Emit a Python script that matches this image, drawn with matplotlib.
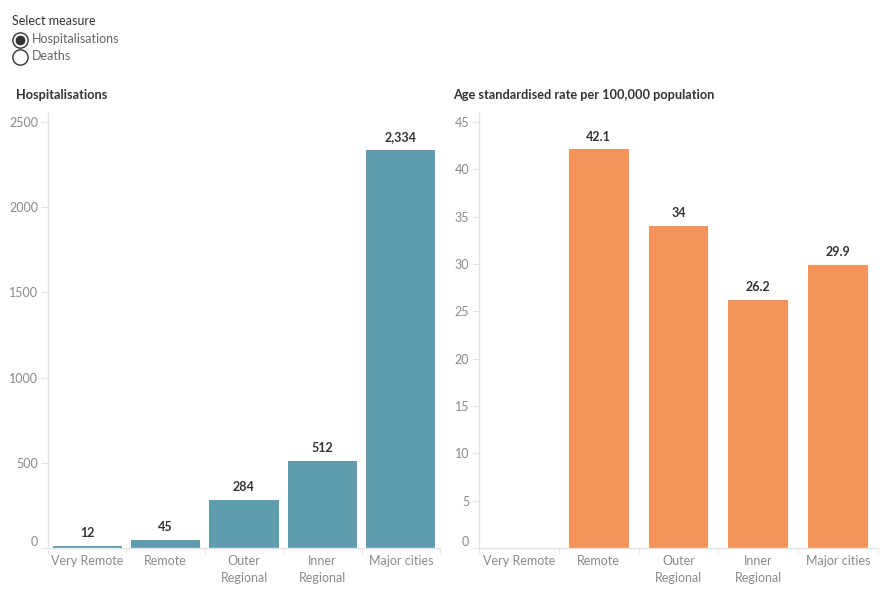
import numpy as np
import matplotlib.pyplot as plt
from matplotlib.lines import Line2D

plt.rcParams['font.family'] = ['Lato', 'DejaVu Sans']

categories = ["Very Remote", "Remote", "Outer\nRegional", "Inner\nRegional", "Major cities"]
hospitalisations = [12, 45, 284, 512, 2334]
rate = [np.nan, 42.1, 34, 26.2, 29.9]

teal = "#5f9cb0"
orange = "#f5945a"
axis_grey = "#e4e4e4"
label_grey = "#8a8a8a"
dark = "#333333"

fig = plt.figure(figsize=(8.9, 6), dpi=100)

# parameter control at top left
fig.text(12 / 890, 1 - 21 / 600, "Select measure", fontsize=9, color=dark, va="center")
fig.text(32 / 890, 1 - 39 / 600, "Hospitalisations", fontsize=9, color="#666666", va="center")
fig.text(32 / 890, 1 - 56 / 600, "Deaths", fontsize=9, color="#666666", va="center")
fig.add_artist(Line2D([20 / 890], [1 - 39.5 / 600], marker="o", markersize=11,
                      markerfacecolor="white", markeredgecolor="#333333", markeredgewidth=1))
fig.add_artist(Line2D([20 / 890], [1 - 39.5 / 600], marker="o", markersize=6,
                      markerfacecolor="#333333", markeredgecolor="#333333"))
fig.add_artist(Line2D([20 / 890], [1 - 56.5 / 600], marker="o", markersize=11,
                      markerfacecolor="white", markeredgecolor="#333333", markeredgewidth=1))

fig.text(16 / 890, 1 - 95 / 600, "Hospitalisations", fontsize=9.2, fontweight="bold",
         color=dark, va="center")
fig.text(453 / 890, 1 - 95 / 600, "Age standardised rate per 100,000 population",
         fontsize=9.2, fontweight="bold", color=dark, va="center")

y0 = 1 - 548 / 600
h = (548 - 113) / 600
ax1 = fig.add_axes([48 / 890, y0, (440 - 48) / 890, h])
ax2 = fig.add_axes([479 / 890, y0, (878 - 479) / 890, h])

x = np.arange(len(categories))


def style(ax, ticks, top):
    for s in ["top", "right"]:
        ax.spines[s].set_visible(False)
    for s in ["left", "bottom"]:
        ax.spines[s].set_color(axis_grey)
        ax.spines[s].set_linewidth(1)
    ax.set_xlim(-0.5, len(categories) - 0.5)
    ax.set_ylim(0, top)
    ax.set_yticks(ticks)
    ax.set_xticks(x)
    ax.set_xticklabels(categories, fontsize=9, color=label_grey, linespacing=1.5)
    ax.set_xticks(np.arange(len(categories) + 1) - 0.5, minor=True)
    ax.tick_params(axis="x", which="major", length=0, pad=5)
    ax.tick_params(axis="x", which="minor", length=4, color=axis_grey)
    ax.tick_params(axis="y", length=5, color=axis_grey, labelsize=9,
                   labelcolor=label_grey, pad=2)
    ax.get_yticklabels()[0].set_va("bottom")


bars1 = ax1.bar(x, hospitalisations, width=0.885, color=teal)
for b, v in zip(bars1, hospitalisations):
    ax1.annotate(f"{v:,}", (b.get_x() + b.get_width() / 2, v), xytext=(0, 5),
                 textcoords="offset points", ha="center", va="bottom",
                 fontsize=9, fontweight="bold", color=dark)
style(ax1, [0, 500, 1000, 1500, 2000, 2500], 2553)

bars2 = ax2.bar(x, rate, width=0.75, color=orange)
for b, v in zip(bars2, rate):
    if np.isnan(v):
        continue
    ax2.annotate(f"{v:g}", (b.get_x() + b.get_width() / 2, v), xytext=(0, 5),
                 textcoords="offset points", ha="center", va="bottom",
                 fontsize=9, fontweight="bold", color=dark)
style(ax2, [0, 5, 10, 15, 20, 25, 30, 35, 40, 45], 45.95)

fig.savefig("out.png", dpi=100)
